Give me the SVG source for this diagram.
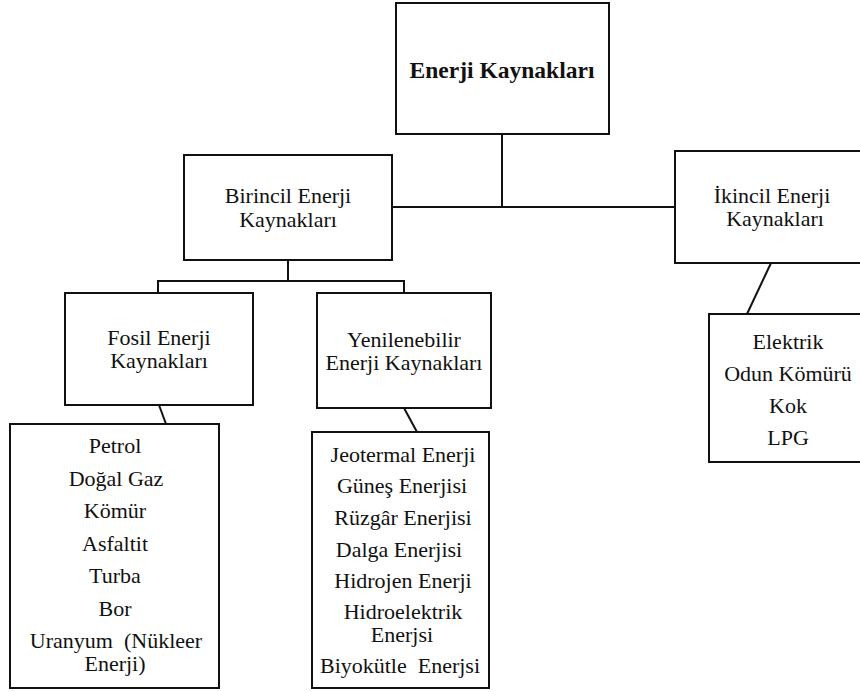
<svg xmlns="http://www.w3.org/2000/svg" width="860" height="692" viewBox="0 0 860 692">
<style>
.box{fill:#fff;stroke:#111;stroke-width:2}
.c{stroke:#111;stroke-width:2;fill:none}
.t{font-weight:bold;font-size:24px}
</style>
<rect width="860" height="692" fill="#fff"/>
<g id="connectors">
<line class="c" x1="502" y1="134" x2="502" y2="207"/>
<line class="c" x1="392" y1="207" x2="676" y2="207"/>
<line class="c" x1="288" y1="260" x2="288" y2="281"/>
<line class="c" x1="157" y1="281" x2="405" y2="281"/>
<line class="c" x1="158" y1="281" x2="158" y2="293"/>
<line class="c" x1="404" y1="281" x2="404" y2="293"/>
<line class="c" x1="159" y1="405" x2="166" y2="424"/>
<line class="c" x1="404" y1="408" x2="417" y2="432"/>
<line class="c" x1="771" y1="263" x2="747" y2="314"/>
</g>
<g font-family="Liberation Serif, Times New Roman, serif" font-size="22" fill="#111" text-anchor="middle">
<g id="enerji-kaynaklari">
<rect class="box" x="396" y="3" width="213" height="131"/>
<text class="t" x="502" y="78" textLength="185" lengthAdjust="spacingAndGlyphs">Enerji Kaynakları</text>
</g>
<g id="birincil">
<rect class="box" x="184" y="155" width="208" height="105"/>
<text x="288" y="203">Birincil Enerji</text>
<text x="288" y="227">Kaynakları</text>
</g>
<g id="ikincil">
<rect class="box" x="675" y="151" width="195" height="112"/>
<text x="772" y="203">İkincil Enerji</text>
<text x="775" y="226">Kaynakları</text>
</g>
<g id="fosil">
<rect class="box" x="65" y="293" width="188" height="112"/>
<text x="159" y="345">Fosil Enerji</text>
<text x="159" y="368">Kaynakları</text>
</g>
<g id="yenilenebilir">
<rect class="box" x="317" y="293" width="174" height="115"/>
<text x="404" y="347">Yenilenebilir</text>
<text x="404" y="370">Enerji Kaynakları</text>
</g>
<g id="fosil-list">
<rect class="box" x="10" y="424" width="209" height="264"/>
<text x="115" y="453">Petrol</text>
<text x="116" y="486">Doğal Gaz</text>
<text x="115" y="518">Kömür</text>
<text x="115" y="551">Asfaltit</text>
<text x="115" y="583">Turba</text>
<text x="115" y="616">Bor</text>
<text x="116" y="648" xml:space="preserve">Uranyum  (Nükleer</text>
<text x="115" y="671">Enerji)</text>
</g>
<g id="yenilenebilir-list">
<rect class="box" x="312" y="432" width="177" height="256"/>
<text x="403" y="462">Jeotermal Enerji</text>
<text x="402" y="493">Güneş Enerjisi</text>
<text x="403" y="525">Rüzgâr Enerjisi</text>
<text x="399" y="557">Dalga Enerjisi</text>
<text x="403" y="588">Hidrojen Enerji</text>
<text x="403" y="619">Hidroelektrik</text>
<text x="402" y="642">Enerjsi</text>
<text x="400" y="673" xml:space="preserve">Biyokütle  Enerjsi</text>
</g>
<g id="ikincil-list">
<rect class="box" x="709" y="314" width="160" height="148"/>
<text x="788" y="349">Elektrik</text>
<text x="788" y="381">Odun Kömürü</text>
<text x="788" y="413">Kok</text>
<text x="788" y="445">LPG</text>
</g>
</g>
</svg>
